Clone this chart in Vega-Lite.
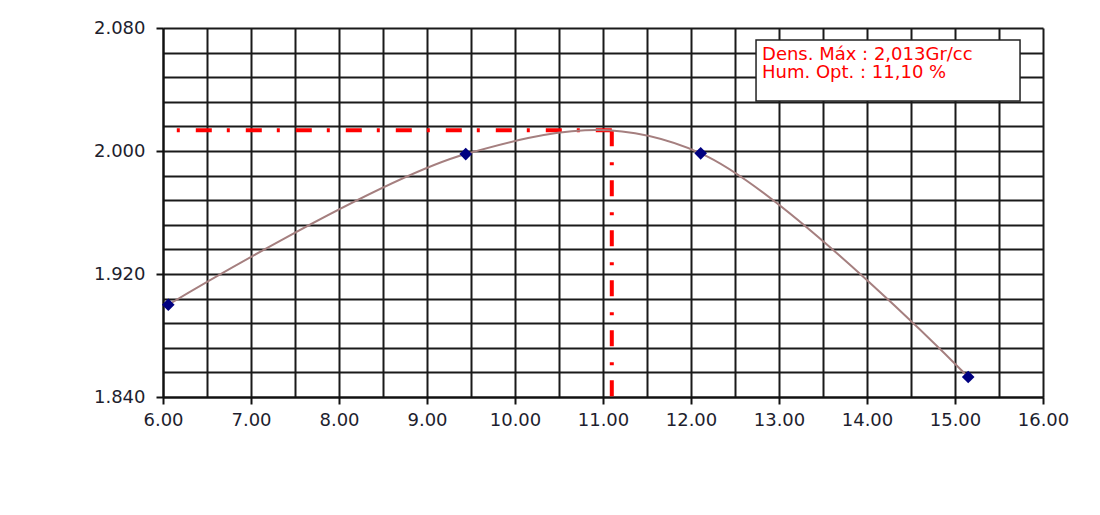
{
  "$schema": "https://vega.github.io/schema/vega-lite/v6.json",
  "width": 880,
  "height": 369,
  "autosize": {"type": "none"},
  "padding": {"left": 163, "top": 28, "right": 57, "bottom": 118},
  "background": "white",
  "config": {
    "view": {"stroke": null},
    "font": "DejaVu Sans",
    "axis": {
      "labelFont": "DejaVu Sans",
      "labelFontSize": 18,
      "labelColor": "#1e1e2e",
      "domainColor": "#111111",
      "domainWidth": 2,
      "gridColor": "#1a1a1a",
      "gridWidth": 2,
      "gridOpacity": 1,
      "tickColor": "#111111",
      "tickWidth": 2,
      "tickSize": 7,
      "title": null,
      "labelFlush": false,
      "labelOverlap": false,
      "grid": true
    }
  },
  "datasets": {
    "points": [
      {"x": 6.06, "y": 1.9},
      {"x": 9.44, "y": 1.998},
      {"x": 12.11, "y": 1.9985},
      {"x": 15.15, "y": 1.853}
    ],
    "ref": [
      {"seg": "h", "step": 0, "x": 11.1, "y": 2.0135},
      {"seg": "h", "step": 1, "x": 6.0, "y": 2.0135},
      {"seg": "v", "step": 0, "x": 11.1, "y": 2.0135},
      {"seg": "v", "step": 1, "x": 11.1, "y": 1.84}
    ],
    "note": [
      {"label": "Dens. Máx : 2,013Gr/cc\nHum. Opt. : 11,10 %"}
    ]
  },
  "layer": [
    {
      "data": {"name": "ref"},
      "mark": {"type": "line", "color": "#ff0000", "strokeWidth": 4, "strokeDash": [16, 16, 3, 15]},
      "encoding": {
        "x": {
          "field": "x",
          "type": "quantitative",
          "scale": {"domain": [6, 16], "nice": false, "zero": false},
          "axis": {
            "values": [6, 6.5, 7, 7.5, 8, 8.5, 9, 9.5, 10, 10.5, 11, 11.5, 12, 12.5, 13, 13.5, 14, 14.5, 15, 15.5, 16],
            "labelExpr": "datum.value % 1 == 0 ? format(datum.value, '.2f') : ''",
            "tickOpacity": {"condition": {"test": "datum.value % 1 == 0", "value": 1}, "value": 0},
            "labelPadding": 7
          }
        },
        "y": {
          "field": "y",
          "type": "quantitative",
          "scale": {"domain": [1.84, 2.08], "nice": false, "zero": false},
          "axis": {
            "values": [1.84, 1.856, 1.872, 1.888, 1.904, 1.92, 1.936, 1.952, 1.968, 1.984, 2.0, 2.016, 2.032, 2.048, 2.064, 2.08],
            "labelExpr": "round(datum.value * 1000) % 80 == 0 ? format(datum.value, '.3f') : ''",
            "tickOpacity": {"condition": {"test": "round(datum.value * 1000) % 80 == 0", "value": 1}, "value": 0},
            "labelPadding": 11
          }
        },
        "detail": {"field": "seg"},
        "order": {"field": "step"}
      }
    },
    {
      "data": {"name": "points"},
      "mark": {"type": "line", "color": "#a57f7f", "strokeWidth": 2, "interpolate": "cardinal", "tension": 0},
      "encoding": {
        "x": {
          "field": "x",
          "type": "quantitative",
          "axis": {
            "values": [6, 6.5, 7, 7.5, 8, 8.5, 9, 9.5, 10, 10.5, 11, 11.5, 12, 12.5, 13, 13.5, 14, 14.5, 15, 15.5, 16],
            "labelExpr": "datum.value % 1 == 0 ? format(datum.value, '.2f') : ''",
            "tickOpacity": {"condition": {"test": "datum.value % 1 == 0", "value": 1}, "value": 0},
            "labelPadding": 7
          }
        },
        "y": {
          "field": "y",
          "type": "quantitative",
          "axis": {
            "values": [1.84, 1.856, 1.872, 1.888, 1.904, 1.92, 1.936, 1.952, 1.968, 1.984, 2.0, 2.016, 2.032, 2.048, 2.064, 2.08],
            "labelExpr": "round(datum.value * 1000) % 80 == 0 ? format(datum.value, '.3f') : ''",
            "tickOpacity": {"condition": {"test": "round(datum.value * 1000) % 80 == 0", "value": 1}, "value": 0},
            "labelPadding": 11
          }
        }
      }
    },
    {
      "data": {"name": "points"},
      "mark": {"type": "point", "shape": "diamond", "filled": true, "color": "#000080", "opacity": 1, "size": 160},
      "encoding": {
        "x": {
          "field": "x",
          "type": "quantitative",
          "axis": {
            "values": [6, 6.5, 7, 7.5, 8, 8.5, 9, 9.5, 10, 10.5, 11, 11.5, 12, 12.5, 13, 13.5, 14, 14.5, 15, 15.5, 16],
            "labelExpr": "datum.value % 1 == 0 ? format(datum.value, '.2f') : ''",
            "tickOpacity": {"condition": {"test": "datum.value % 1 == 0", "value": 1}, "value": 0},
            "labelPadding": 7
          }
        },
        "y": {
          "field": "y",
          "type": "quantitative",
          "axis": {
            "values": [1.84, 1.856, 1.872, 1.888, 1.904, 1.92, 1.936, 1.952, 1.968, 1.984, 2.0, 2.016, 2.032, 2.048, 2.064, 2.08],
            "labelExpr": "round(datum.value * 1000) % 80 == 0 ? format(datum.value, '.3f') : ''",
            "tickOpacity": {"condition": {"test": "round(datum.value * 1000) % 80 == 0", "value": 1}, "value": 0},
            "labelPadding": 11
          }
        }
      }
    },
    {
      "data": {"name": "note"},
      "mark": {"type": "rect", "fill": "white", "stroke": "#222222", "strokeWidth": 1.5},
      "encoding": {
        "x": {
          "datum": 12.739,
          "type": "quantitative",
          "axis": {
            "values": [6, 6.5, 7, 7.5, 8, 8.5, 9, 9.5, 10, 10.5, 11, 11.5, 12, 12.5, 13, 13.5, 14, 14.5, 15, 15.5, 16],
            "labelExpr": "datum.value % 1 == 0 ? format(datum.value, '.2f') : ''",
            "tickOpacity": {"condition": {"test": "datum.value % 1 == 0", "value": 1}, "value": 0},
            "labelPadding": 7
          }
        },
        "x2": {"datum": 15.739},
        "y": {
          "datum": 2.0722,
          "type": "quantitative",
          "axis": {
            "values": [1.84, 1.856, 1.872, 1.888, 1.904, 1.92, 1.936, 1.952, 1.968, 1.984, 2.0, 2.016, 2.032, 2.048, 2.064, 2.08],
            "labelExpr": "round(datum.value * 1000) % 80 == 0 ? format(datum.value, '.3f') : ''",
            "tickOpacity": {"condition": {"test": "round(datum.value * 1000) % 80 == 0", "value": 1}, "value": 0},
            "labelPadding": 11
          }
        },
        "y2": {"datum": 2.0325}
      }
    },
    {
      "data": {"name": "note"},
      "mark": {
        "type": "text",
        "font": "DejaVu Sans",
        "fontSize": 18,
        "color": "#ff0000",
        "align": "left",
        "baseline": "alphabetic",
        "lineBreak": "\n",
        "lineHeight": 18
      },
      "encoding": {
        "text": {"field": "label"},
        "x": {
          "datum": 12.807,
          "type": "quantitative",
          "axis": {
            "values": [6, 6.5, 7, 7.5, 8, 8.5, 9, 9.5, 10, 10.5, 11, 11.5, 12, 12.5, 13, 13.5, 14, 14.5, 15, 15.5, 16],
            "labelExpr": "datum.value % 1 == 0 ? format(datum.value, '.2f') : ''",
            "tickOpacity": {"condition": {"test": "datum.value % 1 == 0", "value": 1}, "value": 0},
            "labelPadding": 7
          }
        },
        "y": {
          "datum": 2.0592,
          "type": "quantitative",
          "axis": {
            "values": [1.84, 1.856, 1.872, 1.888, 1.904, 1.92, 1.936, 1.952, 1.968, 1.984, 2.0, 2.016, 2.032, 2.048, 2.064, 2.08],
            "labelExpr": "round(datum.value * 1000) % 80 == 0 ? format(datum.value, '.3f') : ''",
            "tickOpacity": {"condition": {"test": "round(datum.value * 1000) % 80 == 0", "value": 1}, "value": 0},
            "labelPadding": 11
          }
        }
      }
    }
  ]
}
